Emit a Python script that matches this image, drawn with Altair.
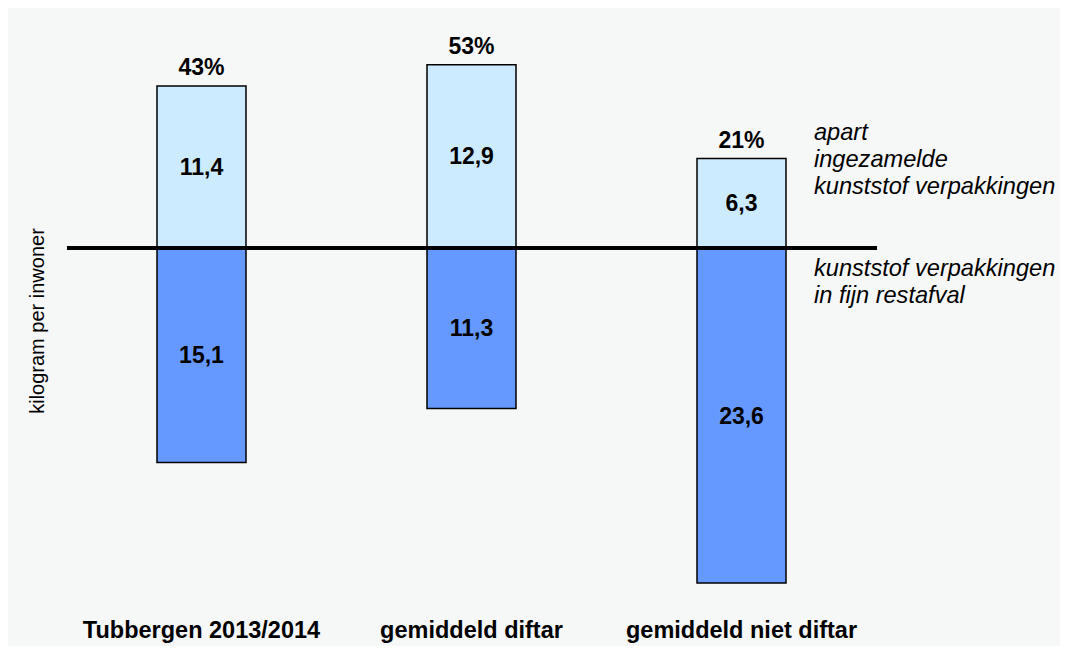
import altair as alt
import pandas as pd

categories = ["Tubbergen 2013/2014", "gemiddeld diftar", "gemiddeld niet diftar"]
apart = [11.4, 12.9, 6.3]          # apart ingezamelde kunststof verpakkingen
restafval = [15.1, 11.3, 23.6]     # kunststof verpakkingen in fijn restafval
percent = ["43%", "53%", "21%"]
apart_labels = ["11,4", "12,9", "6,3"]
rest_labels = ["15,1", "11,3", "23,6"]

df = pd.DataFrame({
    "cat": categories,
    "apart": apart,
    "rest": [-v for v in restafval],
    "pct": percent,
    "alab": apart_labels,
    "rlab": rest_labels,
})
df["amid"] = df["apart"] / 2
df["rmid"] = df["rest"] / 2

W, H = 1052, 638
FONT = "Liberation Sans"

xs = alt.X("cat:N", sort=categories, axis=None,
           scale=alt.Scale(range=[149, 778], paddingInner=0.6704, paddingOuter=0))
ysc = alt.Scale(domain=[-28.03, 16.9], nice=False, zero=False)

base = alt.Chart(df)

top_bar = base.mark_bar(color="#CCEBFF", stroke="black", strokeWidth=1.5).encode(
    x=xs, y=alt.Y("apart:Q", scale=ysc, axis=None), y2=alt.datum(0))
bot_bar = base.mark_bar(color="#6699FF", stroke="black", strokeWidth=1.5).encode(
    x=xs, y=alt.Y("rest:Q", scale=ysc, axis=None), y2=alt.datum(0))

zero_line = base.mark_rule(color="black", strokeWidth=4).encode(
    x=alt.value(59), x2=alt.value(869), y=alt.datum(0, scale=ysc))

txt = dict(font=FONT, fontWeight="bold", fontSize=23, color="black", align="center")
pct_text = base.mark_text(baseline="alphabetic", dy=-11, **txt).encode(
    x=xs, y=alt.Y("apart:Q", scale=ysc), text="pct:N")
a_text = base.mark_text(baseline="alphabetic", dy=8, **txt).encode(
    x=xs, y=alt.Y("amid:Q", scale=ysc), text="alab:N")
r_text = base.mark_text(baseline="alphabetic", dy=8, **txt).encode(
    x=xs, y=alt.Y("rmid:Q", scale=ysc), text="rlab:N")
cat_text = base.mark_text(baseline="alphabetic", font=FONT, fontWeight="bold",
                          fontSize=23.5, color="black", align="center").encode(
    x=xs, y=alt.value(630), text="cat:N")

one = alt.Data(values=[{"a": 1}])
leg_top = alt.Chart(one).mark_text(
    text=["apart", "ingezamelde", "kunststof verpakkingen"], lineHeight=27,
    font=FONT, fontStyle="italic", fontSize=23.6, align="left", baseline="alphabetic",
    color="black").encode(x=alt.value(806), y=alt.value(132))
leg_bot = alt.Chart(one).mark_text(
    text=["kunststof verpakkingen", "in fijn restafval"], lineHeight=27,
    font=FONT, fontStyle="italic", fontSize=23.6, align="left", baseline="alphabetic",
    color="black").encode(x=alt.value(806), y=alt.value(268))
ytitle = alt.Chart(one).mark_text(
    text="kilogram per inwoner", angle=270, font=FONT, fontSize=20,
    align="center", baseline="middle", color="black").encode(
    x=alt.value(30), y=alt.value(313))

chart = alt.layer(top_bar, bot_bar, zero_line, pct_text, a_text, r_text, cat_text,
                  leg_top, leg_bot, ytitle).properties(
    width=W, height=H, background="#F6F7F7", padding=0,
    autosize=alt.AutoSizeParams(type="none"),
).configure_view(stroke=None)

chart.save("out.html", embed_options={"renderer": "svg", "actions": False})
